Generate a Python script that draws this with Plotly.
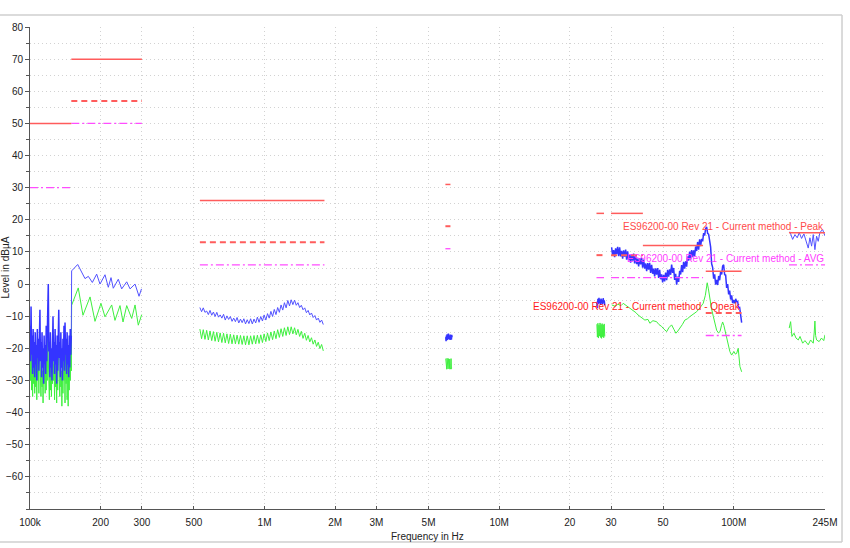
import numpy as np
import plotly.graph_objects as go

# ---------------- measured data (levels in dBuA) ----------------
# 100 kHz - 150 kHz sweep
lw1_start, lw1_stop = 100e3, 150e3
lw1_peak = [-13, -24, -7, -22, -16, -28, -14, -26, -18, -29,
            -15, -25, -19, -30, -14, -23, -17, -27, -11, -8,
            -24, -18, -29, -15, -26, -20, -31, -16, -25, -19,
            -28, -13, -24, -17, -5, 0, -21, -18, -29, -15,
            -26, -20, -30, -16, -10, -24, -18, -28, -14, -25,
            -19, -31, -16, -27, -12, -8, -23, -18, -29, -15,
            -26, -20, -30, -17, -24, -13, -27, -12, -22, -17,
            -28, -15, -25, -19, -29, -16, -26, -14, -22, -16]
lw1_avg = [-17, -30, -20, -33, -22, -35, -19, -31, -24, -34,
           -21, -32, -25, -36, -20, -30, -23, -34, -18, -28,
           -26, -35, -21, -32, -27, -37, -22, -31, -25, -34,
           -20, -33, -24, -30, -17, -26, -29, -36, -23, -33,
           -26, -35, -22, -31, -19, -30, -25, -36, -21, -32,
           -27, -37, -23, -33, -19, -28, -26, -35, -22, -32,
           -27, -38, -24, -34, -21, -30, -26, -37, -20, -31,
           -25, -36, -22, -38, -24, -33, -21, -30, -19, -27]

# 150 kHz - 300 kHz
lw2_peak_khz = [150.5, 159.7, 171.6, 177.3, 184.4, 192.4, 198.8, 208.8, 215.7,
                221.5, 226.5, 237.9, 246.0, 258.4, 267.0, 280.4, 291.6, 298.8]
lw2_peak = [4.1, 6.1, 1.7, 2.4, 0.5, 3.1, 0.0, 2.9, -1.0,
            2.0, -1.3, 1.5, -1.5, 0.7, -1.5, 0.0, -3.8, -1.5]
lw2_avg_khz = [150.5, 160.6, 168.2, 180.3, 189.3, 200.7, 208.8, 223.0,
               230.3, 241.9, 249.2, 258.4, 271.4, 280.4, 289.5, 299.4]
lw2_avg = [-6.6, -1.2, -9.7, -4.0, -11.6, -6.0, -10.2, -6.5,
           -11.3, -6.7, -11.8, -6.7, -10.7, -6.5, -12.8, -9.5]

# AM band sweep 530 kHz - 1.78 MHz
am_start, am_stop = 530e3, 1.78e6
am_peak = [-7.3, -8.6, -7.4, -8.8, -8.4, -9.5, -8.2, -9.7, -8.7, -10.1,
           -8.8, -10.3, -9.6, -10.6, -9.4, -11.2, -9.9, -11.0, -10.1, -11.6,
           -10.6, -11.7, -10.4, -12.1, -10.9, -12.0, -10.8, -12.4, -11.1, -12.3,
           -10.8, -12.4, -10.9, -12.1, -10.3, -11.9, -10.1, -11.5, -9.6, -11.2,
           -9.2, -10.6, -8.5, -10.1, -7.9, -9.5, -7.3, -8.8, -6.5, -8.1,
           -5.8, -7.4, -5.1, -6.8, -4.9, -6.4, -5.0, -6.6, -5.8, -7.3,
           -6.6, -8.0, -7.4, -8.9, -8.2, -9.6, -9.0, -10.4, -9.8, -11.2,
           -10.6, -11.9, -11.2, -12.6]
am_avg = [-14.0, -17.0, -14.2, -17.2, -14.4, -17.4, -14.6, -17.6, -14.8, -17.8,
          -15.0, -18.0, -15.2, -18.2, -15.3, -18.3, -15.5, -18.5, -15.6, -18.6,
          -15.8, -18.6, -15.9, -18.7, -16.0, -18.8, -16.1, -18.9, -16.1, -18.9,
          -16.1, -18.7, -16.0, -18.6, -15.9, -18.5, -15.8, -18.2, -15.5, -17.9,
          -15.2, -17.6, -14.9, -17.3, -14.6, -17.0, -14.2, -16.6, -13.9, -16.3,
          -13.6, -16.0, -13.3, -15.7, -13.3, -15.5, -13.6, -15.8, -14.1, -16.3,
          -14.7, -16.9, -15.3, -17.5, -16.0, -18.0, -16.7, -18.7, -17.4, -19.4,
          -18.1, -20.1, -18.8, -20.8]

# SW band sweep 5.92 - 6.3 MHz
sw_start, sw_stop = 5.92e6, 6.3e6
sw_peak = [-16.5, -17.8, -16.0, -17.5, -15.6, -17.2, -15.8, -17.0, -15.4, -16.8,
           -15.9, -17.1, -16.2, -17.4, -15.7, -16.9, -16.0, -17.3, -15.8, -16.6]
sw_avg = [-23.2, -26.3, -23.5, -26.5, -23.1, -26.2, -23.4, -26.4, -23.2, -26.0,
          -23.6, -26.3, -23.3, -26.5, -23.4, -26.1, -23.2, -26.4, -23.5, -26.2]

# CB band sweep 26.1 - 28.2 MHz
cb_start, cb_stop = 26.1e6, 28.2e6
cb_peak = [-5.5, -7.5, -4.6, -6.2, -4.3, -5.9, -4.8, -6.5,
           -4.5, -6.0, -4.9, -6.3, -4.4, -5.8, -5.1, -6.6]
cb_avg = [-12.5, -16.5, -12.2, -16.8, -12.8, -16.2, -12.1, -16.6,
          -12.6, -16.9, -12.3, -16.4, -12.7, -16.7, -12.4, -16.3]

# VHF / FM sweep 30.17 - 108.1 MHz
vhf_start, vhf_stop = 30.17e6, 108.1e6
vhf_peak = [11.4, 8.8, 10.6, 8.4, 11.1, 9.3, 11.6, 8.7, 11.4, 8.6,
            10.3, 7.9, 10.5, 8.5, 10.7, 7.6, 10.2, 7.4, 9.1, 6.7,
            9.3, 7.3, 9.5, 6.4, 9.0, 6.2, 7.9, 5.5, 8.1, 6.1,
            8.2, 5.1, 7.6, 4.8, 6.4, 4.0, 6.5, 4.5, 6.6, 3.5,
            6.0, 3.2, 4.8, 2.4, 4.9, 2.9, 5.0, 1.9, 4.4, 1.5,
            3.0, 0.5, 2.9, 0.8, 3.6, 1.2, 4.4, 2.3, 4.6, 2.9,
            6.1, 3.5, 5.0, 1.3, 3.2, -0.2, 2.3, 0.7, 4.1, 3.0,
            5.9, 3.7, 6.9, 4.8, 7.1, 5.4, 8.6, 7.3, 10.1, 7.6,
            10.6, 8.4, 10.5, 8.7, 11.7, 10.3, 13.1, 10.7, 13.9, 11.8,
            14.1, 13.3, 15.9, 15.1, 17.3, 17.8, 15.8, 15.5, 13.5, 11.5,
            6.3, 5.2, 1.7, 3.0, -0.2, 1.3, -0.3, 2.5, 1.2, 3.9,
            3.0, 5.6, 6.0, 2.9, 2.8, -1.2, 0.0, -3.2, -2.0, -4.8,
            -3.5, -5.9, -5.0, -6.0, -4.6, -5.5, -5.4, -7.4, -7.3, -10.3,
            -12.0]
vhf_avg_mhz = [30.2, 31.2, 32.1, 33.1, 33.8, 34.7, 35.75, 36.45, 37.3, 38.3,
               39.06, 39.83, 41.0, 41.8, 43.1, 43.9, 45.24, 46.9, 48.0, 49.3,
               50.4, 51.8, 52.9, 54.35, 55.6, 56.7, 57.8, 58.97, 60.4, 61.9,
               63.5, 65.1, 67.0, 69.5, 71.8, 74.1, 75.7, 77.1, 78.0, 79.2,
               80.4, 81.8, 83.2, 84.6, 86.1, 87.4, 88.6, 89.7, 90.8, 91.7,
               93.3, 94.8, 96.3, 97.97, 99.2, 100.2, 101.7, 102.9, 104.5, 106.3,
               108.1]
vhf_avg = [-6.5, -6.9, -6.3, -6.7, -6.0, -6.6, -7.3, -7.8, -8.1, -8.9,
           -9.6, -10.1, -10.8, -11.2, -11.0, -12.2, -11.4, -11.7, -12.6, -13.2,
           -14.0, -14.8, -13.6, -12.7, -14.1, -15.3, -14.6, -13.8, -12.6, -11.2,
           -10.8, -10.1, -9.5, -8.6, -7.4, -6.0, -3.5, 0.4, -1.5, -5.0,
           -7.6, -10.0, -12.3, -14.4, -15.2, -14.8, -13.0, -11.8, -12.9, -14.4,
           -16.0, -19.5, -21.0, -22.1, -21.3, -21.0, -21.8, -21.6, -20.0, -25.7,
           -27.3]

# TV band 172 - 245 MHz
tv_peak_mhz = [173.6, 178.3, 182.4, 186.5, 190.2, 194.7, 199.2, 203.2, 207.8,
               211.3, 214.8, 218.3, 221.9, 225.6, 229.2, 233.0, 239.3, 244.8]
tv_peak = [16.3, 13.9, 15.4, 14.4, 16.0, 14.2, 15.6, 13.3, 11.2,
           14.4, 11.8, 15.4, 10.7, 14.9, 13.3, 16.0, 17.0, 15.0]
tv_avg_mhz = [172.4, 174.8, 177.1, 180.7, 184.3, 188.5, 191.7, 196.8, 201.2, 207.8,
              212.7, 218.3, 220.4, 221.9, 223.4, 225.6, 231.3, 236.7, 242.0, 245.0]
tv_avg = [-13.7, -11.7, -16.3, -15.3, -16.8, -17.4, -16.3, -18.4, -17.6, -18.9,
          -17.4, -18.4, -15.0, -11.5, -16.0, -17.4, -17.9, -16.8, -17.6, -15.8]

# ---------------- limit lines (MHz, dBuA) ----------------
lim_peak_lo = [0.1, 0.15, 0.53, 5.9, 26, 30, 41, 76, 172]
lim_peak_hi = [0.15, 0.3, 1.8, 6.2, 28, 41, 74, 108, 245]
lim_peak_lvl = [50, 70, 26, 31, 22, 22, 12, 4, 16]
lim_qp_lo = [0.15, 0.53, 5.9, 26, 30, 76]
lim_qp_hi = [0.3, 1.8, 6.2, 28, 41, 108]
lim_qp_lvl = [57, 13, 18, 9, 9, -9]
lim_avg_lo = [0.1, 0.15, 0.53, 5.9, 26, 30, 76, 172]
lim_avg_hi = [0.15, 0.3, 1.8, 6.2, 28, 74, 108, 245]
lim_avg_lvl = [30, 50, 6, 11, 2, 2, -16, 6]

# axis ticks
x_tickvals = [1e5, 2e5, 3e5, 5e5, 1e6, 2e6, 3e6, 5e6, 1e7, 2e7, 3e7, 5e7, 1e8, 2.45e8]
x_ticktext = ["100k", "200", "300", "500", "1M", "2M", "3M", "5M", "10M",
              "20", "30", "50", "100M", "245M"]
y_tickvals = [-60, -50, -40, -30, -20, -10, 0, 10, 20, 30, 40, 50, 60, 70, 80]

label_peak = "ES96200-00 Rev 21 - Current method - Peak"
label_avg = "ES96200-00 Rev 21 - Current method - AVG"
label_qp = "ES96200-00 Rev 21 - Current method - Qpeak"

# ---------------- build ----------------
def sweep(start, stop, vals):
    return list(np.geomspace(start, stop, len(vals))), list(vals)

def join(parts):
    xs, ys = [], []
    for i, (x, y) in enumerate(parts):
        if i:
            xs.append(None); ys.append(None)
        xs += list(x); ys += list(y)
    return xs, ys

def segs(lo, hi, lvl):
    xs, ys = [], []
    for a, b, v in zip(lo, hi, lvl):
        xs += [a * 1e6, b * 1e6, None]
        ys += [v, v, None]
    return xs, ys

f1, p1 = sweep(lw1_start, lw1_stop, lw1_peak)
_, a1 = sweep(lw1_start, lw1_stop, lw1_avg)
peak_thin = [
    ([f1[-1]] + [k * 1e3 for k in lw2_peak_khz], [p1[-1]] + lw2_peak),
    sweep(am_start, am_stop, am_peak),
    ([m * 1e6 for m in tv_peak_mhz], tv_peak),
]
peak_dense = [
    (f1, p1),
    sweep(sw_start, sw_stop, sw_peak),
    sweep(cb_start, cb_stop, cb_peak),
    sweep(vhf_start, vhf_stop, vhf_peak),
]
avg_parts = [
    (f1 + [k * 1e3 for k in lw2_avg_khz], a1 + lw2_avg),
    sweep(am_start, am_stop, am_avg),
    sweep(sw_start, sw_stop, sw_avg),
    sweep(cb_start, cb_stop, cb_avg),
    ([m * 1e6 for m in vhf_avg_mhz], vhf_avg),
    ([m * 1e6 for m in tv_avg_mhz], tv_avg),
]
ptx, pty = join(peak_thin)
pdx, pdy = join(peak_dense)
ax, ay = join(avg_parts)

RED = "#ff5c5c"
MAG = "#ff4dff"
GREEN = "#3ff03f"

fig = go.Figure()
fig.add_trace(go.Scatter(x=ax, y=ay, mode="lines", line=dict(color=GREEN, width=1),
                         connectgaps=False, hoverinfo="skip"))
fig.add_trace(go.Scatter(x=ptx, y=pty, mode="lines", line=dict(color="#5252ff", width=1),
                         connectgaps=False, hoverinfo="skip"))
fig.add_trace(go.Scatter(x=pdx, y=pdy, mode="lines", line=dict(color="#3434ff", width=1.5),
                         connectgaps=False, hoverinfo="skip"))

lx, ly = segs(lim_avg_lo, lim_avg_hi, lim_avg_lvl)
fig.add_trace(go.Scatter(x=lx, y=ly, mode="lines",
                         line=dict(color=MAG, width=1.3, dash="8px,3px,2px,3px")))
lx, ly = segs(lim_qp_lo, lim_qp_hi, lim_qp_lvl)
fig.add_trace(go.Scatter(x=lx, y=ly, mode="lines",
                         line=dict(color=RED, width=2, dash="6px,4px")))
lx, ly = segs(lim_peak_lo, lim_peak_hi, lim_peak_lvl)
fig.add_trace(go.Scatter(x=lx, y=ly, mode="lines", line=dict(color=RED, width=1.5)))

FONT = "Liberation Sans, Arial, sans-serif"
ann = [
    dict(x=np.log10(lim_peak_hi[-1] * 1e6), y=lim_peak_lvl[-1], text=label_peak,
         font=dict(color="#ff4a4a", size=10, family=FONT)),
    dict(x=np.log10(lim_avg_hi[-1] * 1e6), y=lim_avg_lvl[-1], text=label_avg,
         font=dict(color="#ff3cff", size=10, family=FONT)),
    dict(x=np.log10(lim_qp_hi[-1] * 1e6), y=lim_qp_lvl[-1], text=label_qp,
         font=dict(color="#ff1a1a", size=10, family=FONT)),
]
for a in ann:
    a.update(xref="x", yref="y", xanchor="right", yanchor="bottom",
             showarrow=False, borderpad=0, yshift=0)
    fig.add_annotation(**a)

fig.add_annotation(text="Level in dBµA", textangle=-90, xref="paper", yref="paper",
                   x=-0.032, y=0.5, xanchor="center", yanchor="middle", showarrow=False,
                   font=dict(size=10, color="#222", family=FONT))
fig.add_annotation(text="Frequency in Hz", xref="paper", yref="paper",
                   x=0.5, y=-0.058, xanchor="center", yanchor="middle", showarrow=False,
                   font=dict(size=10, color="#222", family=FONT))

# outer frame lines
frame = "#cfcfcf"
fig.add_shape(type="line", xref="paper", yref="paper", x0=-0.05, x1=1.0214,
              y0=1.0249, y1=1.0249, line=dict(color=frame, width=1.5))
fig.add_shape(type="line", xref="paper", yref="paper", x0=1.0214, x1=1.0214,
              y0=1.0249, y1=-0.0685, line=dict(color=frame, width=1.5))
fig.add_shape(type="line", xref="paper", yref="paper", x0=-0.05, x1=1.0214,
              y0=-0.0685, y1=-0.0685, line=dict(color=frame, width=1.5))

GRID = "#d2d2d2"
GDASH = "1px,3px"
fig.update_layout(
    width=850, height=548, showlegend=False,
    margin=dict(l=30, r=25, t=27, b=39),
    paper_bgcolor="white", plot_bgcolor="white",
    font=dict(family=FONT, size=10, color="#222"),
    xaxis=dict(type="log", range=[5, np.log10(2.45e8)], tickvals=x_tickvals,
               ticktext=x_ticktext, showgrid=True, gridcolor=GRID, griddash=GDASH,
               gridwidth=1, showline=True, linecolor="#555", linewidth=1,
               ticks="inside", ticklen=3, tickcolor="#555", zeroline=False,
               automargin=False,
               tickfont=dict(size=10, color="#222"), ticklabelstandoff=4),
    yaxis=dict(range=[-70, 80], tickvals=y_tickvals, showgrid=True, gridcolor=GRID,
               griddash=GDASH, gridwidth=1, showline=True, linecolor="#555",
               linewidth=1, ticks="outside", ticklen=4, tickcolor="#555",
               zeroline=False, automargin=False, tickfont=dict(size=10, color="#222"),
               minor=dict(dtick=5, tick0=0, showgrid=True, gridcolor=GRID,
                          griddash=GDASH, ticks="outside", ticklen=3,
                          tickcolor="#555")),
)

fig.write_html("out.html")
